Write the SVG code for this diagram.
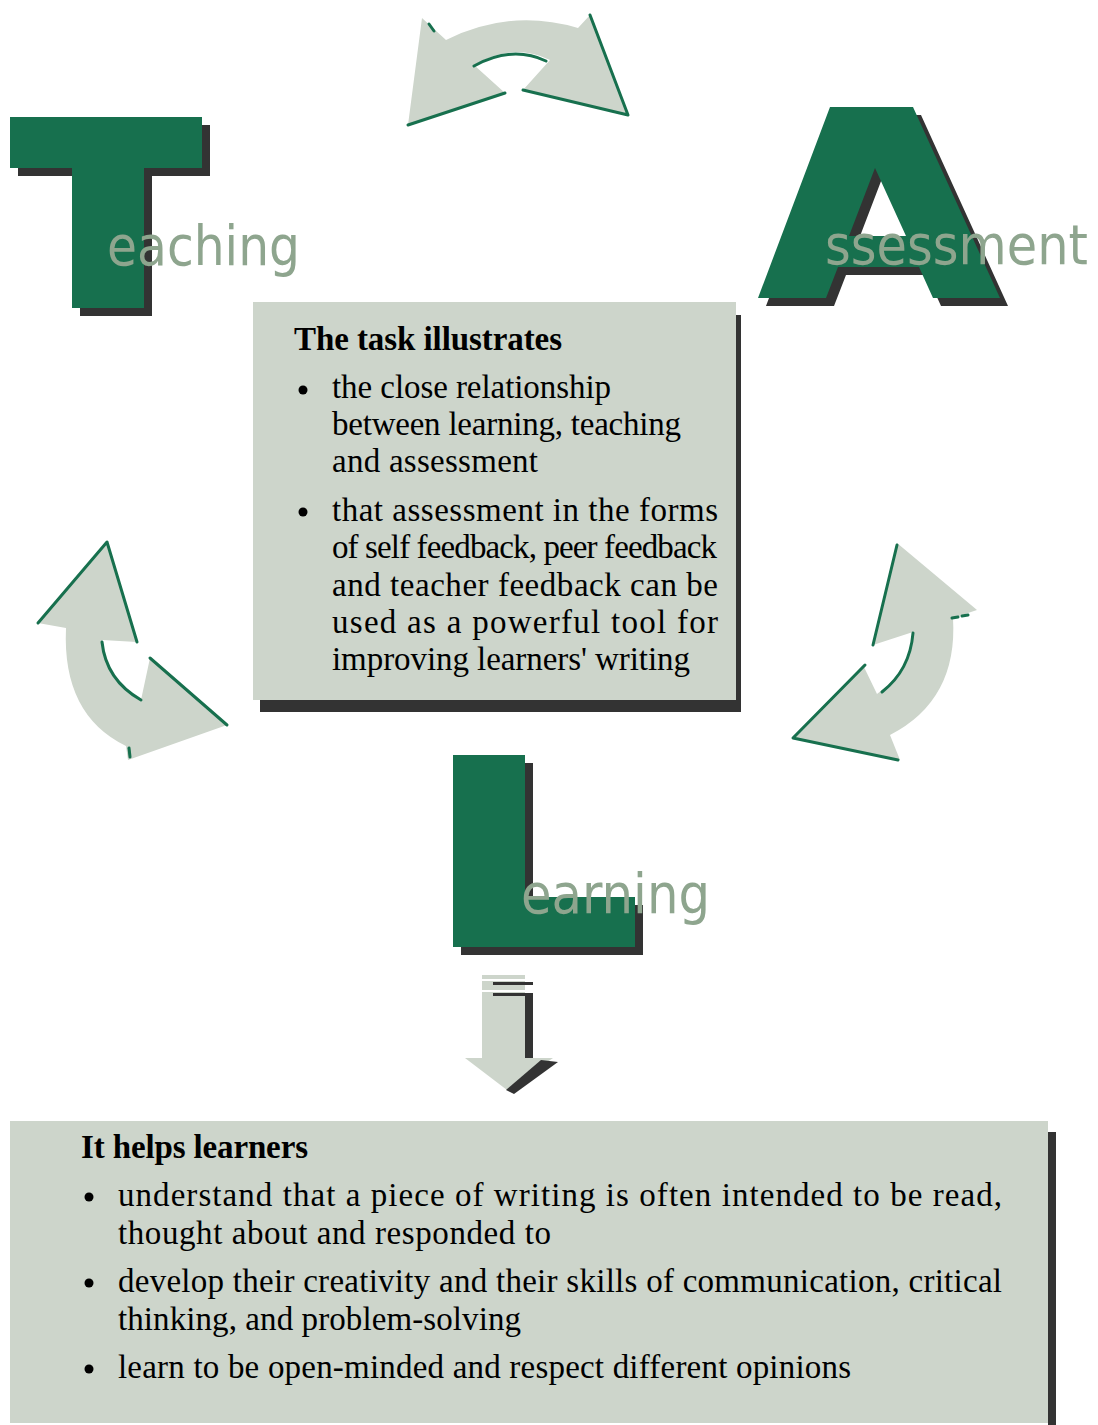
<svg xmlns="http://www.w3.org/2000/svg" width="1098" height="1425" viewBox="0 0 1098 1425">
<style>
.bg{fill:#ffffff}
.box{fill:#cdd5cb}
.shadow{fill:#333333}
.letter{fill:#17704e}
.arrow{fill:#cdd5cb}
.edge{fill:none;stroke:#17704e;stroke-width:3;stroke-linecap:round;stroke-linejoin:round}
.word{font-family:"DejaVu Sans","Liberation Sans",sans-serif;font-size:55px;fill:#8ea58e}
.head{font-family:"Liberation Serif","Times New Roman",serif;font-size:33px;font-weight:bold;fill:#000}
.body{font-family:"Liberation Serif","Times New Roman",serif;font-size:33px;fill:#000}
</style>
<rect class="bg" x="0" y="0" width="1098" height="1425"/>

<g id="connectors">
  <g id="arrow-top">
    <path class="arrow" d="M408,125 L422,18 L446,40 Q510,8 578,28 L590,15 L628,115 L523,90 L550,60 Q512,42 474,65 L505,93 Z"/>
    <path class="edge" d="M408,125 L505,93"/>
    <path class="edge" d="M474,66 Q512,45 546,61" stroke-width="4"/>
    <path class="edge" d="M590,15 L628,115 L523,90"/>
    <path class="edge" d="M429,24 L434,31" stroke-width="2"/>
  </g>
  <g id="arrow-left">
    <path class="arrow" d="M107,542 L38,623 L66,628 Q62,715 126,746 L128,760 L227,725 L150,658 L141,700 Q106,680 102,640 L137,642 Z"/>
    <path class="edge" d="M38,623 L107,542 L137,642" stroke-width="2.5"/>
    <path class="edge" d="M102,642 Q106,680 141,700"/>
    <path class="edge" d="M150,658 L227,725" stroke-width="4"/>
    <path class="edge" d="M129,748 L130,757" stroke-width="2"/>
  </g>
  <g id="arrow-right">
    <path class="arrow" d="M897,543 L977,610 L953,618 Q958,700 890,735 L900,760 L793,738 L863,665 L877,694 Q910,670 913,632 L873,645 Z"/>
    <path class="edge" d="M897,545 L873,645" stroke-width="4"/>
    <path class="edge" d="M952,618 L958,617 M962,616 L968,615" stroke-width="2"/>
    <path class="edge" d="M913,633 Q910,670 882,692"/>
    <path class="edge" d="M865,665 L793,738 L898,760"/>
  </g>
  <g id="arrow-down">
    <rect class="arrow" x="482" y="975" width="43" height="83"/>
    <rect class="shadow" x="525" y="993" width="8" height="65"/>
    <rect fill="#ffffff" x="482" y="979" width="51" height="2"/>
    <rect fill="#ffffff" x="482" y="990" width="51" height="2"/>
    <rect class="shadow" x="493" y="982" width="40" height="3"/>
    <rect class="shadow" x="493" y="993" width="40" height="3"/>
    <polygon class="arrow" points="465,1058 553,1058 507,1090"/>
    <polygon class="shadow" points="541,1060 558,1062 514,1094 506,1090"/>
  </g>
</g>

<g id="node-teaching">
  <path class="shadow" transform="translate(8,8)" d="M10,117 H202 V168 H144 V308 H72 V168 H10 Z"/>
  <path class="letter" d="M10,117 H202 V168 H144 V308 H72 V168 H10 Z"/>
  <text class="word" x="107" y="265" textLength="193" lengthAdjust="spacingAndGlyphs">eaching</text>
</g>

<g id="node-assessment">
  <path class="shadow" transform="translate(8,8)" fill-rule="evenodd" d="M830,107 L913,107 L1000,298 L933,298 L919,267 L838,267 L826,298 L758,298 Z M875,168 L849,236 L906,236 Z"/>
  <path class="letter" fill-rule="evenodd" d="M830,107 L913,107 L1000,298 L933,298 L919,267 L838,267 L826,298 L758,298 Z M875,168 L849,236 L906,236 Z"/>
  <text class="word" x="825" y="264" textLength="263" lengthAdjust="spacingAndGlyphs">ssessment</text>
</g>

<g id="node-learning">
  <path class="shadow" transform="translate(8,8)" d="M453,755 H525 V897 H635 V947 H453 Z"/>
  <path class="letter" d="M453,755 H525 V897 H635 V947 H453 Z"/>
  <text class="word" x="521" y="913" textLength="189" lengthAdjust="spacingAndGlyphs">earning</text>
</g>

<g id="node-task">
  <rect class="shadow" x="260" y="315" width="481" height="397"/>
  <rect class="box" x="253" y="302" width="483" height="398"/>
  <text class="head" x="294" y="350" textLength="268">The task illustrates</text>
  <circle cx="303" cy="390" r="4.5"/>
  <text class="body" x="332" y="398" textLength="279">the close relationship</text>
  <text class="body" x="332" y="435" textLength="349">between learning, teaching</text>
  <text class="body" x="332" y="472" textLength="206">and assessment</text>
  <circle cx="303" cy="512" r="4.5"/>
  <text class="body" x="332" y="521" textLength="386">that assessment in the forms</text>
  <text class="body" x="332" y="558" textLength="385">of self feedback, peer feedback</text>
  <text class="body" x="332" y="596" textLength="386">and teacher feedback can be</text>
  <text class="body" x="332" y="633" textLength="386">used as a powerful tool for</text>
  <text class="body" x="332" y="670" textLength="358">improving learners' writing</text>
</g>

<g id="node-helps">
  <rect class="shadow" x="1048" y="1132" width="8" height="293"/>
  <rect class="box" x="10" y="1121" width="1038" height="302"/>
  <text class="head" x="81" y="1158" textLength="227">It helps learners</text>
  <circle cx="89" cy="1197" r="4.5"/>
  <text class="body" x="118" y="1206" textLength="884">understand that a piece of writing is often intended to be read,</text>
  <text class="body" x="118" y="1244" textLength="433">thought about and responded to</text>
  <circle cx="89" cy="1283" r="4.5"/>
  <text class="body" x="118" y="1292" textLength="884">develop their creativity and their skills of communication, critical</text>
  <text class="body" x="118" y="1330" textLength="403">thinking, and problem-solving</text>
  <circle cx="89" cy="1369" r="4.5"/>
  <text class="body" x="118" y="1378" textLength="733">learn to be open-minded and respect different opinions</text>
</g>
</svg>
